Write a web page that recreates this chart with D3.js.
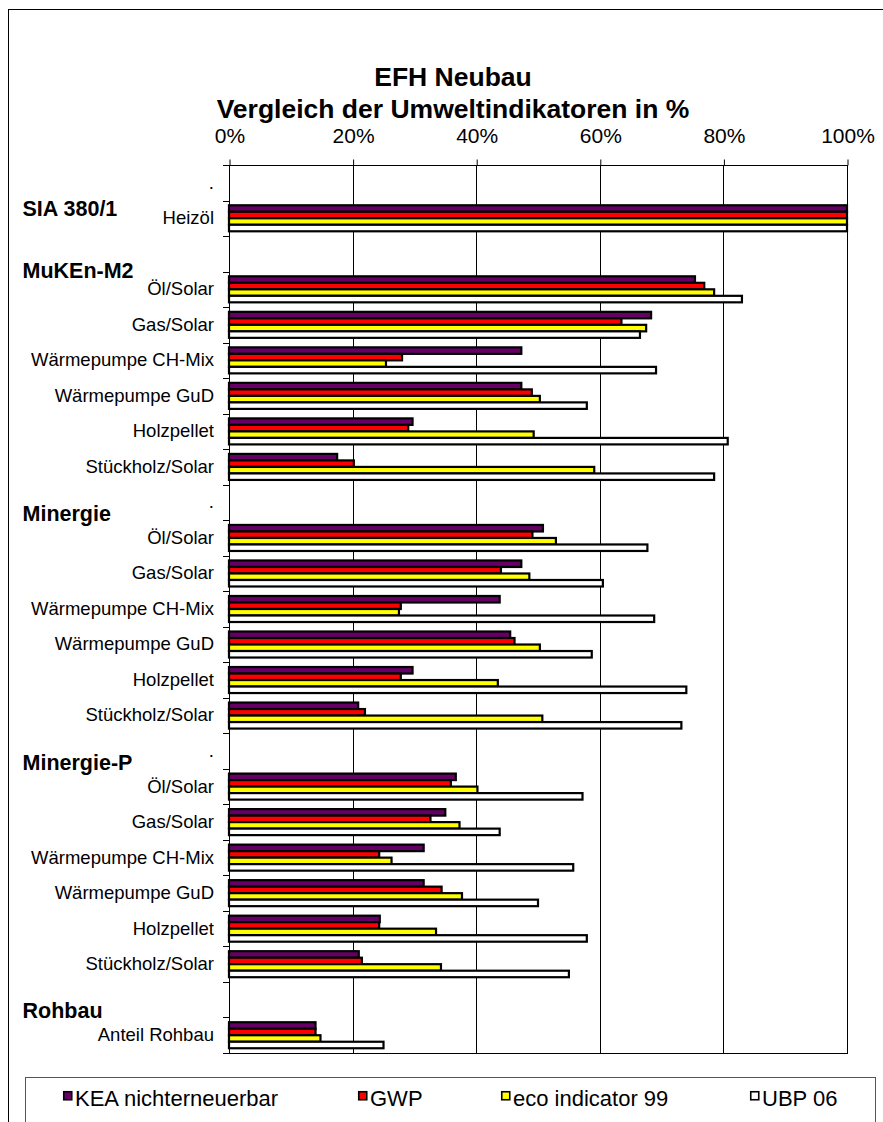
<!DOCTYPE html>
<html>
<head>
<meta charset="utf-8">
<script src="https://cdn.jsdelivr.net/npm/d3@7"></script>
<style>
  html, body { margin: 0; padding: 0; background: #fff; }
  svg { display: block; font-family: "Liberation Sans", Arial, sans-serif; }
</style>
</head>
<body>
<svg id="chart" width="883" height="1122"></svg>
<script>
// ---------------- DATA ----------------
const rowLabels = [
  ".", "Heizöl", "",
  "Öl/Solar", "Gas/Solar", "Wärmepumpe CH-Mix", "Wärmepumpe GuD", "Holzpellet", "Stückholz/Solar",
  ".",
  "Öl/Solar", "Gas/Solar", "Wärmepumpe CH-Mix", "Wärmepumpe GuD", "Holzpellet", "Stückholz/Solar",
  ".",
  "Öl/Solar", "Gas/Solar", "Wärmepumpe CH-Mix", "Wärmepumpe GuD", "Holzpellet", "Stückholz/Solar",
  "", "Anteil Rohbau"
];
const groupLabels = ["SIA 380/1", "MuKEn-M2", "Minergie", "Minergie-P", "Rohbau"];
const groupRows = [1, 3, 10, 17, 24];

const seriesNames = ["KEA nichterneuerbar", "GWP", "eco indicator 99", "UBP 06"];
const seriesColors = ["#660066", "#FF0000", "#FFFF00", "#FFFFFF"];

// values in % (null = empty row)
const kea = [null, 100, null, 75.4, 68.3, 47.3, 47.3, 29.7, 17.5, null, 50.8, 47.3, 43.8, 45.5, 29.7, 20.9, null, 36.7, 35.0, 31.5, 31.5, 24.4, 21.0, null, 14.0];
const gwp = [null, 100, null, 76.9, 63.5, 28.0, 49.0, 29.0, 20.2, null, 49.1, 44.0, 27.8, 46.2, 27.8, 22.0, null, 35.9, 32.6, 24.3, 34.4, 24.3, 21.5, null, 14.0];
const eco = [null, 100, null, 78.5, 67.5, 25.4, 50.3, 49.3, 59.1, null, 52.9, 48.6, 27.5, 50.3, 43.5, 50.7, null, 40.2, 37.3, 26.3, 37.7, 33.5, 34.3, null, 14.8];
const ubp = [null, 100, null, 83.0, 66.5, 69.1, 57.9, 80.7, 78.5, null, 67.7, 60.5, 68.8, 58.7, 74.0, 73.2, null, 57.2, 43.8, 55.7, 50.0, 57.9, 55.0, null, 25.0];

const xTicks = [0, 20, 40, 60, 80, 100];

// ---------------- LAYOUT ----------------
const svg = d3.select("#chart");
const plot = { left: 229, right: 847, top: 165, bottom: 1053 };

// outer frame
svg.append("rect").attr("x", 8.5).attr("y", 9.5).attr("width", 900).attr("height", 1200)
  .attr("fill", "none").attr("stroke", "#000").attr("stroke-width", 1);

// title
svg.append("text").attr("x", 453).attr("y", 86).attr("text-anchor", "middle")
  .attr("font-size", 26.5).attr("font-weight", "bold").text("EFH Neubau");
svg.append("text").attr("x", 453).attr("y", 118).attr("text-anchor", "middle")
  .attr("font-size", 26.5).attr("font-weight", "bold").text("Vergleich der Umweltindikatoren in %");

const x = d3.scaleLinear().domain([0, 100]).range([plot.left, plot.right]);
const y = d3.scaleBand().domain(d3.range(rowLabels.length)).range([plot.top, plot.bottom]);
const ys = d3.scaleBand().domain(seriesNames).range([0, y.bandwidth()]).paddingInner(0).paddingOuter(0.73);

// grid lines
svg.append("g").selectAll("line").data(xTicks.slice(1, -1)).join("line")
  .attr("x1", d => Math.round(x(d)) + 0.5).attr("x2", d => Math.round(x(d)) + 0.5)
  .attr("y1", plot.top).attr("y2", plot.bottom)
  .attr("stroke", "#000").attr("stroke-width", 1);

// plot frame
svg.append("rect").attr("x", plot.left + 0.5).attr("y", plot.top + 0.5)
  .attr("width", plot.right - plot.left).attr("height", plot.bottom - plot.top)
  .attr("fill", "none").attr("stroke", "#000").attr("stroke-width", 1);

// top axis
const xAxis = d3.axisTop(x).tickValues(xTicks).tickFormat(d => d + "%").tickSize(6).tickPadding(17);
const gx = svg.append("g").attr("transform", `translate(0.5,${plot.top + 0.5})`).call(xAxis);
gx.select(".domain").remove();
gx.selectAll("text").attr("font-size", 21).attr("font-family", "Liberation Sans, Arial, sans-serif").attr("fill", "#000");
gx.selectAll("line").attr("stroke", "#000");

// left axis labels
const yAxis = d3.axisLeft(y).tickSize(0).tickPadding(15).tickFormat(i => rowLabels[i]);
const gy = svg.append("g").attr("transform", `translate(${plot.left},0)`).call(yAxis);
gy.select(".domain").remove();
gy.selectAll("text").attr("font-size", 18.5).attr("dy", "0.32em")
  .attr("font-family", "Liberation Sans, Arial, sans-serif").attr("fill", "#000");

// left boundary ticks
const boundaries = d3.range(rowLabels.length).map(i => y(i)).concat([plot.bottom]);
svg.append("g").selectAll("line").data(boundaries).join("line")
  .attr("x1", plot.left - 6).attr("x2", plot.left + 0.5)
  .attr("y1", d => Math.round(d) + 0.5).attr("y2", d => Math.round(d) + 0.5)
  .attr("stroke", "#000").attr("stroke-width", 1);

// group labels
const groupOffset = [15, 6.5, 1, 1, 1];
svg.append("g").selectAll("text").data(groupLabels).join("text")
  .attr("x", 22.5).attr("y", (d, i) => y(groupRows[i]) + groupOffset[i])
  .attr("font-size", 21.5).attr("font-weight", "bold").text(d => d);

// bars
const seriesData = [kea, gwp, eco, ubp];
const barsG = svg.append("g");
seriesData.forEach((arr, si) => {
  const name = seriesNames[si];
  barsG.append("g").selectAll("rect")
    .data(arr.map((v, i) => ({ v, i })).filter(d => d.v !== null))
    .join("rect")
    .attr("x", x(0))
    .attr("y", d => y(d.i) + ys(name))
    .attr("width", d => x(d.v) - x(0))
    .attr("height", ys.bandwidth())
    .attr("fill", seriesColors[si])
    .attr("stroke", "#000").attr("stroke-width", 2.2);
});

// legend
svg.append("rect").attr("x", 25.5).attr("y", 1077.5).attr("width", 850).attr("height", 60)
  .attr("fill", "#fff").attr("stroke", "#555").attr("stroke-width", 1);
const legX = [63, 358, 501, 750];
const lg = svg.append("g").selectAll("g").data(seriesNames).join("g")
  .attr("transform", (d, i) => `translate(${legX[i]},1091)`);
lg.append("rect").attr("x", 0.75).attr("y", 0.75).attr("width", 8).attr("height", 8)
  .attr("fill", (d, i) => seriesColors[i]).attr("stroke", "#000").attr("stroke-width", 1.6);
lg.append("text").attr("x", 12).attr("y", 15).attr("font-size", 22).text(d => d);
</script>
</body>
</html>
